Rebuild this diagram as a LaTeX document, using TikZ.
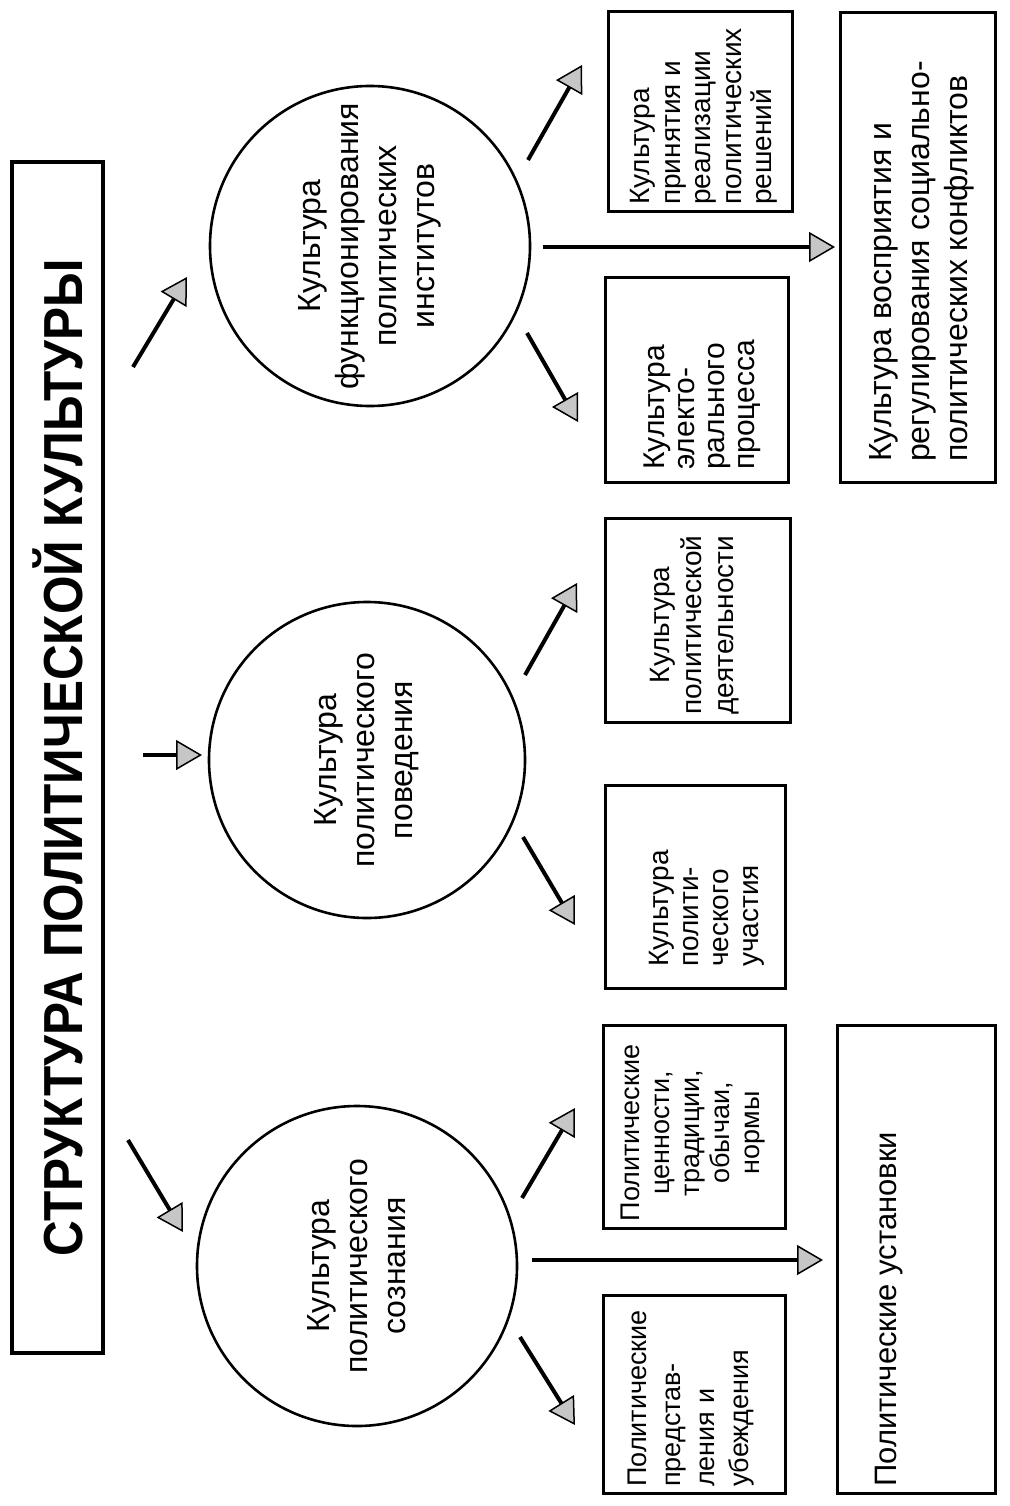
\documentclass[tikz,border=0pt]{standalone}
\usepackage{fontspec}
\setmainfont{Liberation Sans}
\newfontfamily\titlefont[FakeStretch=0.9]{Liberation Sans}
\usetikzlibrary{arrows.meta}
\tikzset{
  boxnode/.style={draw, line width=3pt, rectangle, rotate=90, inner sep=0pt},
  circnode/.style={draw, circle, line width=2.6pt, minimum size=#1, inner sep=0pt, rotate=90, align=center, font=\fontsize{32}{38}\selectfont},
  txt/.style={rotate=90, inner sep=0pt},
  arr/.style={line width=4pt, -{Triangle[length=26pt, width=30pt, fill=gray!45, line width=1.5pt]}},
}
\begin{document}
\begin{tikzpicture}[x=1pt, y=-1pt]
\useasboundingbox[fill=white] (0,0) rectangle (1009,1506);

% title
\node[draw, line width=4pt, rotate=90, minimum width=1191, minimum height=91, inner sep=0pt,
      font=\titlefont\bfseries\fontsize{55}{60}\selectfont] (title) at (57.5,757.5) {СТРУКТУРА ПОЛИТИЧЕСКОЙ КУЛЬТУРЫ};

% circles
\node[circnode=320] (c1) at (357,1266) {Культура\\политического\\сознания};
\node[circnode=316] (c2) at (367,760) {Культура\\политического\\поведения};
\node[circnode=320] (c3) at (370,246) {Культура\\функционирования\\политических\\институтов};

% boxes
\node[boxnode, minimum width=200, minimum height=184] (b5) at (700,112) {};
\node[boxnode, minimum width=205, minimum height=183] (b6) at (696.5,379.5) {};
\node[boxnode, minimum width=469, minimum height=155] (b7) at (917.5,247.5) {};
\node[boxnode, minimum width=204, minimum height=185] (b4) at (697.5,620) {};
\node[boxnode, minimum width=203, minimum height=180] (b3) at (695,886.5) {};
\node[boxnode, minimum width=203, minimum height=182] (b2) at (694,1126.5) {};
\node[boxnode, minimum width=198, minimum height=182] (b1) at (694,1394) {};
\node[boxnode, minimum width=468, minimum height=158] (b8) at (916,1259) {};

% box texts
\node[txt, anchor=west, align=left, font=\fontsize{28}{30.5}\selectfont] (b5t) at (704,205)
  {Культура\\принятия и\\реализации\\политических\\решений};
\node[txt, anchor=west, align=left, font=\fontsize{30}{30}\selectfont] (b6t) at (702,470)
  {Культура\\электо-\\рального\\процесса};
\node[txt, anchor=west, align=left, font=\fontsize{32}{38}\selectfont] (b7t) at (922,462)
  {Культура восприятия и\\регулирования социально-\\политических конфликтов};
\node[txt, align=center, font=\fontsize{28}{32}\selectfont] (b4t) at (695,625)
  {Культура\\политической\\деятельности};
\node[txt, anchor=west, align=left, font=\fontsize{28}{30}\selectfont] (b3t) at (707,967)
  {Культура\\полити-\\ческого\\участия};
\node[txt, align=center, font=\fontsize{27}{30}\selectfont] (b2t) at (693,1133)
  {Политические\\ценности,\\традиции,\\обычаи,\\нормы};
\node[txt, anchor=west, align=left, font=\fontsize{27}{34}\selectfont] (b1t) at (691,1487)
  {Политические\\представ-\\ления и\\убеждения};
\node[txt, anchor=west, font=\fontsize{31}{38}\selectfont] (b8t) at (889,1487)
  {Политические установки};

% arrow end points
\coordinate (ta1) at (128,1140); \coordinate (ta1e) at (183,1232);
\coordinate (ta2) at (143,755);  \coordinate (ta2e) at (202,755);
\coordinate (ta3) at (133,367);  \coordinate (ta3e) at (187,277);

\coordinate (a1u) at (522,1198); \coordinate (a1ue) at (575,1108);
\coordinate (a1m) at (532,1260); \coordinate (a1me) at (823,1260);
\coordinate (a1d) at (520,1337); \coordinate (a1de) at (575,1425);

\coordinate (a2u) at (525,675);  \coordinate (a2ue) at (577,583);
\coordinate (a2d) at (523,837);  \coordinate (a2de) at (575,925);

\coordinate (a3u) at (528,160);  \coordinate (a3ue) at (582,65);
\coordinate (a3m) at (543,247);  \coordinate (a3me) at (835,247);
\coordinate (a3d) at (527,333);  \coordinate (a3de) at (578,422);

% connectors
\draw[arr] (ta1) -- (ta1e);
\draw[arr] (ta2) -- (ta2e);
\draw[arr] (ta3) -- (ta3e);
\draw[arr] (a1u) -- (a1ue);
\draw[arr] (a1m) -- (a1me);
\draw[arr] (a1d) -- (a1de);
\draw[arr] (a2u) -- (a2ue);
\draw[arr] (a2d) -- (a2de);
\draw[arr] (a3u) -- (a3ue);
\draw[arr] (a3m) -- (a3me);
\draw[arr] (a3d) -- (a3de);
\end{tikzpicture}
\end{document}
